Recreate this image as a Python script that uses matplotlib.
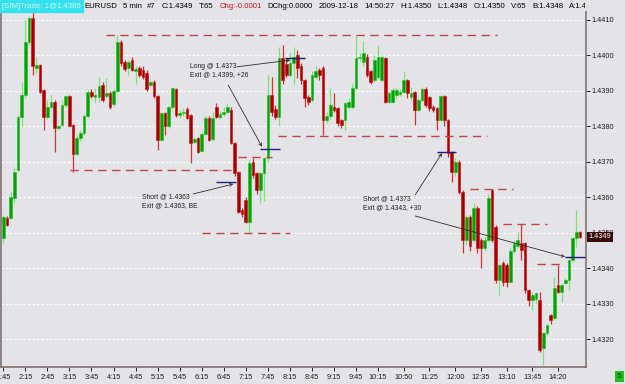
import matplotlib
matplotlib.use("Agg")
import matplotlib.pyplot as plt
from matplotlib.patches import Rectangle
from matplotlib.transforms import Bbox

plt.rcParams['font.family'] = ['Liberation Sans', 'DejaVu Sans']

# EURUSD 5 min bars, prices in pips above 1.4300
base = 1.4300
opens = [48.5, 54.3, 54.1, 59.8, 67.7, 82.8, 88.9, 103.9, 110.5, 96.4,
         97.3, 90.3, 82.8, 85.6, 87.0, 79.5, 80.4, 86.1, 88.6, 80.4,
         72.3, 76.7, 78.1, 83.0, 89.8, 88.4, 88.2, 91.7, 88.5, 89.3,
         86.3, 90.1, 103.9, 98.3, 96.4, 98.7, 95.7, 96.4, 95.9, 95.0,
         91.7, 92.6, 88.6, 76.2, 83.7, 80.0, 85.6, 90.5, 83.2, 83.7,
         85.0, 83.2, 75.5, 76.7, 73.2, 77.9, 82.3, 76.5, 85.5, 82.8,
         83.5, 84.0, 84.6, 75.3, 67.3, 56.5, 59.3, 53.0, 70.1, 66.8,
         62.0, 66.8, 71.0, 88.9, 85.0, 82.8, 99.2, 97.5, 94.5, 97.8,
         100.1, 96.9, 93.1, 88.4, 87.5, 94.0, 95.9, 96.4, 81.8, 83.0,
         85.6, 85.1, 81.8, 81.8, 85.6, 85.6, 90.8, 99.2, 98.3, 99.7,
         95.5, 93.1, 94.0, 93.0, 99.2, 87.0, 87.0, 88.9, 89.2, 89.8,
         93.1, 88.2, 89.8, 84.6, 87.5, 90.6, 88.2, 85.6, 85.1, 81.8,
         88.6, 81.8, 72.9, 67.3, 70.1, 61.6, 48.0, 54.6, 48.0, 57.0,
         48.0, 45.7, 48.0, 62.0, 51.8, 36.8, 41.5, 41.0, 36.3, 44.8,
         46.2, 47.1, 47.1, 34.0, 31.1, 31.5, 31.1, 17.6, 21.7, 26.9,
         26.0, 35.4, 33.4, 35.8, 36.8, 42.4, 48.5, 50.4]
highs = [55.0, 54.8, 61.6, 68.2, 83.2, 92.6, 110.0, 111.0, 112.3, 99.7,
         97.5, 90.5, 87.5, 88.9, 87.5, 80.5, 87.5, 88.9, 89.0, 80.8,
         77.5, 79.0, 83.5, 90.3, 90.5, 90.8, 94.0, 92.5, 93.6, 90.0,
         90.5, 105.8, 104.4, 98.6, 98.7, 99.7, 97.0, 97.0, 96.9, 96.0,
         93.3, 93.0, 89.0, 84.0, 84.0, 86.0, 91.2, 90.8, 84.6, 85.1,
         85.5, 83.5, 77.0, 77.0, 78.5, 83.0, 83.0, 84.0, 86.5, 84.5,
         85.5, 86.5, 85.5, 75.5, 67.5, 57.0, 60.0, 70.5, 71.0, 67.3,
         67.3, 71.5, 94.5, 94.0, 86.0, 102.5, 103.0, 99.0, 101.0, 102.5,
         101.5, 98.0, 93.5, 88.8, 95.5, 97.0, 96.5, 97.0, 84.0, 90.8,
         89.3, 85.5, 82.2, 87.0, 88.0, 92.0, 105.8, 100.6, 104.0, 100.5,
         96.0, 100.0, 103.0, 100.0, 99.5, 90.0, 90.8, 91.0, 90.5, 95.5,
         93.5, 91.2, 90.0, 88.0, 91.0, 91.0, 88.5, 86.0, 85.5, 89.0,
         89.0, 82.0, 73.2, 71.0, 70.5, 62.0, 55.0, 55.0, 58.4, 57.5,
         48.5, 49.0, 61.0, 62.3, 52.2, 41.5, 42.0, 41.5, 46.0, 48.0,
         50.4, 52.5, 47.5, 34.3, 33.0, 33.5, 33.5, 22.0, 24.5, 27.3,
         37.7, 41.0, 36.0, 37.3, 42.8, 49.0, 56.5, 50.6]
lows = [47.0, 52.0, 53.8, 58.8, 67.5, 80.0, 88.0, 103.0, 94.5, 95.0,
        89.5, 79.0, 82.0, 85.0, 72.9, 79.0, 80.0, 85.5, 80.0, 67.3,
        72.0, 76.0, 77.5, 82.5, 88.0, 87.0, 87.0, 87.0, 88.0, 85.0,
        85.8, 89.5, 97.0, 95.6, 94.5, 95.6, 92.0, 94.0, 93.5, 90.0,
        91.0, 88.0, 73.4, 75.8, 77.6, 79.5, 85.0, 82.7, 82.5, 83.0,
        82.0, 69.8, 75.0, 72.5, 72.8, 77.5, 75.8, 76.0, 82.5, 82.0,
        83.0, 83.5, 75.0, 66.0, 55.5, 54.5, 52.7, 50.0, 65.5, 61.0,
        58.5, 59.0, 70.0, 83.0, 82.0, 80.0, 92.0, 94.0, 94.0, 92.0,
        93.6, 92.0, 85.6, 86.0, 87.0, 93.5, 93.0, 77.6, 81.0, 82.0,
        84.0, 80.0, 79.5, 79.0, 85.0, 85.0, 90.5, 98.5, 97.0, 94.0,
        92.0, 92.5, 93.5, 92.5, 86.5, 86.5, 86.5, 88.0, 88.5, 89.5,
        88.0, 87.5, 80.4, 84.0, 87.0, 85.5, 84.5, 84.0, 79.0, 81.5,
        80.0, 71.5, 64.5, 66.0, 61.0, 44.3, 46.6, 45.0, 47.5, 44.5,
        40.0, 45.0, 47.5, 47.5, 36.0, 32.5, 35.0, 34.9, 36.0, 44.5,
        45.8, 42.4, 33.0, 29.3, 28.3, 30.0, 16.5, 12.8, 21.3, 24.5,
        25.5, 33.0, 30.6, 35.5, 34.0, 42.0, 46.0, 48.7]
closes = [54.6, 52.3, 60.2, 67.3, 82.8, 88.9, 103.9, 110.5, 96.9, 97.3,
          89.8, 82.8, 85.6, 87.0, 79.5, 80.2, 86.1, 88.6, 80.1, 72.3,
          76.7, 78.3, 83.0, 89.8, 88.6, 88.9, 91.4, 87.5, 89.5, 85.6,
          90.1, 103.9, 97.8, 96.1, 98.3, 95.9, 96.2, 94.5, 94.0, 90.6,
          92.6, 88.6, 76.2, 83.7, 80.0, 85.6, 90.8, 83.2, 83.7, 84.2,
          82.3, 75.3, 76.4, 72.9, 77.9, 82.3, 76.2, 82.5, 82.8, 83.6,
          84.0, 85.5, 75.3, 66.8, 56.0, 55.3, 53.2, 69.6, 66.3, 62.0,
          66.8, 71.0, 88.9, 84.1, 82.8, 99.2, 93.0, 94.5, 97.8, 99.7,
          96.4, 93.1, 87.9, 87.0, 94.5, 95.5, 94.5, 81.8, 83.0, 86.1,
          84.6, 80.9, 80.4, 86.5, 87.0, 90.8, 99.2, 99.7, 100.6, 94.5,
          92.6, 98.7, 99.5, 99.5, 87.0, 89.5, 90.3, 90.3, 89.8, 93.1,
          89.3, 89.3, 84.6, 87.5, 90.6, 86.1, 85.1, 84.6, 81.8, 88.6,
          81.8, 72.4, 67.3, 70.1, 61.6, 48.0, 54.6, 46.2, 57.0, 45.7,
          45.7, 48.0, 59.8, 48.0, 36.8, 41.0, 36.3, 36.3, 44.8, 47.1,
          48.0, 45.2, 34.0, 31.1, 32.5, 33.0, 17.1, 21.7, 24.1, 25.5,
          34.4, 33.4, 35.4, 36.8, 42.4, 48.5, 50.4, 49.0]

time_labels = ['1:45', '2:15', '2:45', '3:15', '3:45', '4:15', '4:45', '5:15', '5:45',
               '6:15', '6:45', '7:15', '7:45', '8:15', '8:45', '9:15', '9:45', '10:15',
               '10:50', '11:25', '12:00', '12:35', '13:10', '13:45', '14:20']
time_ticks = list(range(0, 103, 6)) + list(range(109, 152, 7))
price_ticks = [1.4320, 1.4330, 1.4340, 1.4350, 1.4360, 1.4370, 1.4380, 1.4390, 1.4400, 1.4410]

# dashed support / resistance levels (pips) and their bar spans
level_prices = [105.8, 67.7, 50.0, 71.3, 77.3, 62.3, 52.5, 41.3]
level_from = [28.0, 18.2, 54.0, 63.9, 74.8, 127.0, 136.0, 145.3]
level_to = [134.3, 62.3, 78.0, 73.2, 131.7, 138.8, 148.0, 152.4]

# trade entry / exit marks
trade_prices = [64.5, 73.6, 99.2, 72.7, 43.3]
trade_from = [57.9, 69.9, 76.7, 118.1, 152.9]
trade_to = [63.4, 75.3, 82.1, 123.2, 158.4]

notes = ['Short @ 1.4363\nExit @ 1.4363, BE',
         'Long @ 1.4373\nExit @ 1.4399, +26',
         'Short @ 1.4373\nExit @ 1.4343, +30']

header = [('EURUSD', 'black'), ('5 min', 'black'), ('#7', 'black'), ('C:1.4349', 'black'),
          ('T:65', 'black'), ('Chg:-0.0001', '#d01010'), ('DChg:0.0000', 'black'),
          ('2009-12-18', 'black'), ('14:50:27', 'black'), ('H:1.4350', 'black'),
          ('L:1.4348', 'black'), ('O:1.4350', 'black'), ('V:65', 'black'),
          ('B:1.4348', 'black'), ('A:1.4350', 'black')]

W, H = 625, 384
bg = '#e4e4e8'
fig = plt.figure(figsize=(W / 100, H / 100), dpi=100, facecolor=bg)
ax = fig.add_axes([1 / W, 17 / H, 585 / W, 355 / H], facecolor=bg)

p = lambda v: base + v / 10000.0

# candles
for i in range(len(opens)):
    o, h, l, c = p(opens[i]), p(highs[i]), p(lows[i]), p(closes[i])
    up = c >= o
    wick = '#78e478' if up else '#d83030'
    body = '#08a008' if up else '#a80000'
    edge = '#20c020' if up else '#c81010'
    ax.vlines(i, l, h, color=wick, lw=0.9, zorder=2)
    lo, hi = min(o, c), max(o, c)
    ax.bar(i, max(hi - lo, 0.00004), bottom=lo, width=0.72, color=body,
           edgecolor=edge, lw=0.4, zorder=3)

for lv, a, b in zip(level_prices, level_from, level_to):
    ax.hlines(p(lv), a, b, color='#c04848', lw=1.0, linestyles=(0, (6, 4)), zorder=4)

for tp, a, b in zip(trade_prices, trade_from, trade_to):
    ax.hlines(p(tp), a, b, color='#1c1c80', lw=1.0, zorder=5)

# notes and arrows
note_style = dict(fontsize=4.9, color='#202020', ha='left', va='top', linespacing=1.35, zorder=6)
ax.text(37.7, p(61.2), notes[0], **note_style)
ax.text(50.8, p(98.0), notes[1], **note_style)
ax.text(97.8, p(60.6), notes[2], **note_style)

arrows = [((51.7, 61.0), (62.6, 63.8)),
          ((63.6, 96.8), (78.1, 98.7)),
          ((61.2, 91.7), (70.4, 74.3)),
          ((112.1, 60.7), (119.4, 72.5)),
          ((112.1, 54.8), (152.9, 43.3))]
for (x0, y0), (x1, y1) in arrows:
    ax.annotate('', xy=(x1, p(y1)), xytext=(x0, p(y0)),
                arrowprops=dict(arrowstyle='->', color='#303030', lw=0.6,
                                shrinkA=0, shrinkB=0, mutation_scale=5), zorder=6)

ax.set_xlim(-0.63, 158.6)
ax.set_ylim(p(12.25), p(112.25))
ax.set_yticks(price_ticks)
ax.set_yticklabels(['%.4f' % v for v in price_ticks])
ax.set_xticks(time_ticks)
ax.set_xticklabels(time_labels)
ax.yaxis.tick_right()
ax.grid(axis='y', color='white', lw=0.8, linestyle=(0, (2, 2)), zorder=0)
ax.set_axisbelow(True)
ax.tick_params(axis='both', labelsize=5.3, colors='#202020', length=3, width=0.7, pad=1)
ax.tick_params(axis='x', pad=2)
for side in ['left', 'right', 'bottom']:
    ax.spines[side].set_color('#7a6868')
    ax.spines[side].set_linewidth(1.1)
ax.spines['top'].set_visible(False)

# last price tag
ax.annotate('%.4f' % p(closes[-1]), xy=(1.0, p(closes[-1])), xycoords=('axes fraction', 'data'),
            xytext=(2, 0), textcoords='offset points', fontsize=5.3, color='white',
            va='center', ha='left', annotation_clip=False, zorder=10,
            bbox=dict(boxstyle='square,pad=0.2', fc='#3a0a0a', ec='none'))

# header bar
fig.patches.append(Rectangle((0, 1 - 12 / H), 83 / W, 12 / H, transform=fig.transFigure,
                             color='#34e2ee', zorder=1))
fig.text(2 / W, 1 - 6.5 / H, '[SIM]Trade: 1@1.4386', fontsize=5.6, color='#d8f4f6',
         va='center', ha='left')
renderer = fig.canvas.get_renderer()
clip = Bbox([[0, 0], [585, H]])
x = 84
for txt, col in header:
    t = fig.text(x / W, 1 - 6.5 / H, txt, fontsize=5.6, color=col, va='center', ha='left')
    t.set_clip_box(clip)
    t.set_clip_on(True)
    x += t.get_window_extent(renderer).width + 5.8

fig.text(619.5 / W, 1 - 376.5 / H, '5', fontsize=6, color='#063006', ha='center', va='center',
         bbox=dict(boxstyle='square,pad=0.25', fc='#22c022', ec='none'))

fig.savefig('out.png', dpi=100, facecolor=bg)
